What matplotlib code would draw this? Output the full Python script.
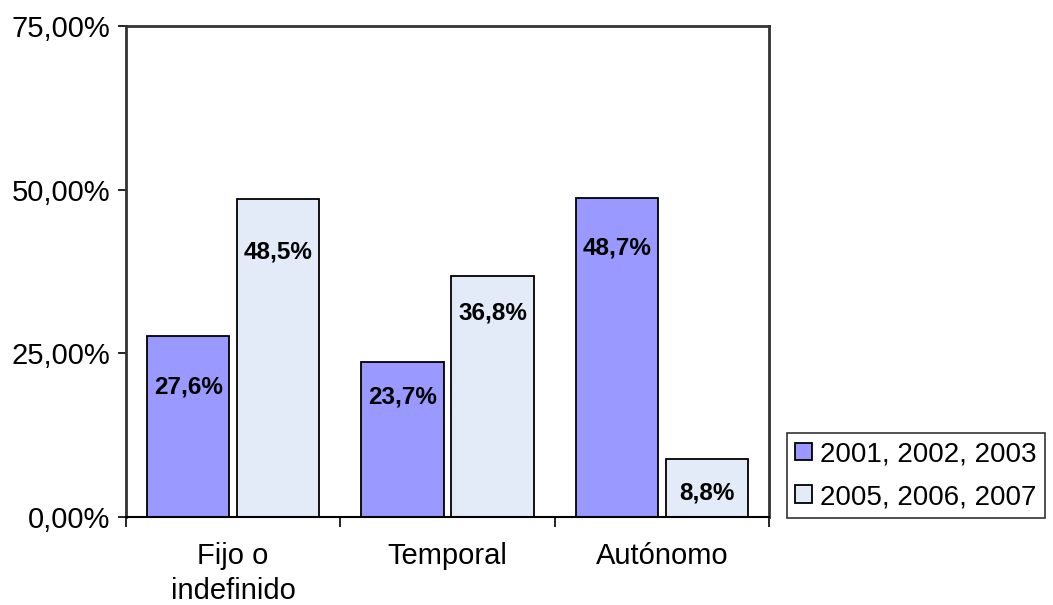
import matplotlib
matplotlib.use("Agg")
import matplotlib.pyplot as plt
import numpy as np
from matplotlib.ticker import FuncFormatter

categories = ["Fijo o\nindefinido", "Temporal", "Autónomo"]
series_names = ["2001, 2002, 2003", "2005, 2006, 2007"]
values_a = [27.6, 23.7, 48.7]
values_b = [48.5, 36.8, 8.8]
y_ticks = [0, 25, 50, 75]

colors = ["#9999FF", "#E3EBF9"]
label_offsets_a = [-51, -35, -50]
label_offsets_b = [-53, -37, -34]

plt.rcParams['font.family'] = ['Liberation Sans', 'DejaVu Sans']

fig = plt.figure(figsize=(10.53, 6.05), dpi=100)
ax = fig.add_axes([126/1053, 88/605, (769-126)/1053, (517-26)/605])

x = np.arange(len(categories))
w = 0.383
off = 0.21
bars_a = ax.bar(x - off, values_a, w, color=colors[0], edgecolor="black", linewidth=1.3, label=series_names[0], zorder=2)
bars_b = ax.bar(x + off, values_b, w, color=colors[1], edgecolor="black", linewidth=1.3, label=series_names[1], zorder=2)

for bars, vals, offs in [(bars_a, values_a, label_offsets_a), (bars_b, values_b, label_offsets_b)]:
    for b, v, o in zip(bars, vals, offs):
        ax.annotate(f"{v:.1f}%".replace(".", ","), (b.get_x() + b.get_width()/2, v),
                    xytext=(0, o), textcoords="offset pixels",
                    ha="center", va="center", fontsize=17.5, fontweight="bold")

ax.set_xlim(-0.5, 2.5)
ax.set_ylim(0, 75)
ax.set_yticks(y_ticks)
ax.yaxis.set_major_formatter(FuncFormatter(lambda v, p: f"{v:.2f}%".replace(".", ",")))
ax.tick_params(axis="y", labelsize=21, length=6, width=1.2, direction="out", pad=5)

ax.set_xticks([-0.5, 0.5, 1.5, 2.5])
ax.set_xticklabels([])
ax.set_xticks(x, minor=True)
ax.set_xticklabels(categories, minor=True, linespacing=1.3)
ax.tick_params(axis="x", which="major", length=7, width=1.2, direction="out")
ax.tick_params(axis="x", which="minor", length=0, labelsize=21, pad=18)

for s in ["top", "right", "left"]:
    ax.spines[s].set_color("#333333")
    ax.spines[s].set_linewidth(2)
ax.spines["bottom"].set_color("black")
ax.spines["bottom"].set_linewidth(1.5)

leg = ax.legend(loc="upper left", bbox_to_anchor=(787/1053, (605-433)/605),
                bbox_transform=fig.transFigure, fontsize=20, frameon=True,
                fancybox=False, edgecolor="black", handlelength=0.6, handleheight=0.6,
                handletextpad=0.3, borderpad=0.3, labelspacing=0.6, borderaxespad=0)
leg.get_frame().set_linewidth(1.2)

fig.savefig("out.png", dpi=100)
